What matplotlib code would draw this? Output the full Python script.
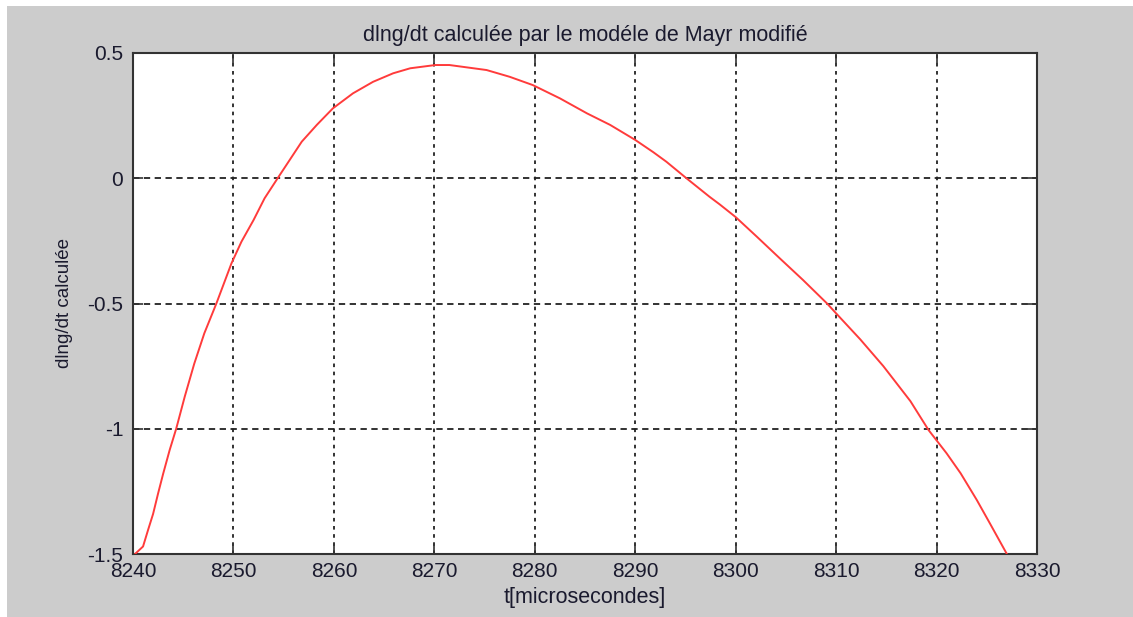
import matplotlib
matplotlib.use("Agg")
import matplotlib.pyplot as plt
from matplotlib.patches import Rectangle
from matplotlib.ticker import FuncFormatter

# Data
t_us = [8240.2, 8241.0, 8241.5, 8242.0, 8242.5, 8243.0, 8243.65, 8244.3, 8245.15,
        8246.1, 8247.1, 8248.3, 8249.8, 8250.8, 8252.0, 8253.1, 8254.4, 8256.8,
        8258.3, 8259.9, 8261.9, 8263.9, 8265.9, 8267.6, 8270.1, 8271.5, 8275.2,
        8277.5, 8279.8, 8282.5, 8285.2, 8287.5, 8290.0, 8291.8, 8293.1, 8295.1,
        8297.4, 8298.4, 8300.0, 8302.1, 8304.4, 8306.7, 8309.1, 8309.9, 8312.4,
        8314.7, 8317.4, 8319.2, 8321.0, 8322.4, 8324.0, 8325.3, 8327.0]
dlng_dt = [-1.50, -1.47, -1.404, -1.34, -1.258, -1.18, -1.085, -1.00, -0.872,
           -0.74, -0.619, -0.50, -0.34, -0.253, -0.167, -0.08, 0.0, 0.146,
           0.213, 0.279, 0.339, 0.385, 0.419, 0.439, 0.452, 0.452, 0.432,
           0.405, 0.372, 0.319, 0.259, 0.213, 0.153, 0.104, 0.066, 0.0,
           -0.074, -0.104, -0.155, -0.233, -0.32, -0.406, -0.50, -0.535, -0.643,
           -0.75, -0.89, -1.005, -1.098, -1.178, -1.284, -1.377, -1.50]

x_ticks = [8240, 8250, 8260, 8270, 8280, 8290, 8300, 8310, 8320, 8330]
y_ticks = [-1.5, -1, -0.5, 0, 0.5]

title = "dlng/dt calculée par le modéle de Mayr modifié"
xlabel = "t[microsecondes]"
ylabel = "dlng/dt calculée"

plt.rcParams['font.family'] = ['Liberation Sans', 'DejaVu Sans']

W, H = 1133, 617
fig = plt.figure(figsize=(W / 100, H / 100), dpi=100, facecolor='white')
fig.patches.append(Rectangle((7 / W, 0), 1 - 7 / W, 1 - 6 / H, transform=fig.transFigure,
                             facecolor='#cccccc', edgecolor='none', zorder=-10))

ax = fig.add_axes([133 / W, 1 - 554 / H, (1037 - 133) / W, (554 - 53) / H])
ax.set_facecolor('white')

ax.plot(t_us, dlng_dt, color='#ff3b3b', lw=1.4, zorder=3,
        solid_joinstyle='round', solid_capstyle='round')

ax.set_xlim(8240, 8330)
ax.set_ylim(-1.5, 0.5)
ax.set_xticks(x_ticks)
ax.set_yticks(y_ticks)
ax.xaxis.set_major_formatter(FuncFormatter(lambda v, p: f"{v:g}"))
ax.yaxis.set_major_formatter(FuncFormatter(lambda v, p: f"{v:g}"))

for x in x_ticks[1:-1]:
    ax.axvline(x, color='#222222', lw=1.3, ls=(0, (2, 2.5)), zorder=1)
for y in y_ticks[1:-1]:
    ax.axhline(y, color='#222222', lw=1.3, ls=(0, (3.5, 2.5)), zorder=1)

ax.tick_params(direction='in', length=7, width=1.2, color='#333333',
               labelsize=15, labelcolor='#1a1a2e', top=True, right=True)
ax.tick_params(axis='x', pad=6)
ax.tick_params(axis='y', pad=7)
for s in ax.spines.values():
    s.set_linewidth(1.5)
    s.set_color('#333333')

ax.set_title(title, fontsize=15.5, color='#1a1a2e', pad=9)
ax.set_xlabel(xlabel, fontsize=15.5, color='#1a1a2e', labelpad=4)
ax.set_ylabel(ylabel, fontsize=13.5, color='#1a1a2e', labelpad=10)

fig.savefig("out.png", dpi=100, facecolor=fig.get_facecolor())
